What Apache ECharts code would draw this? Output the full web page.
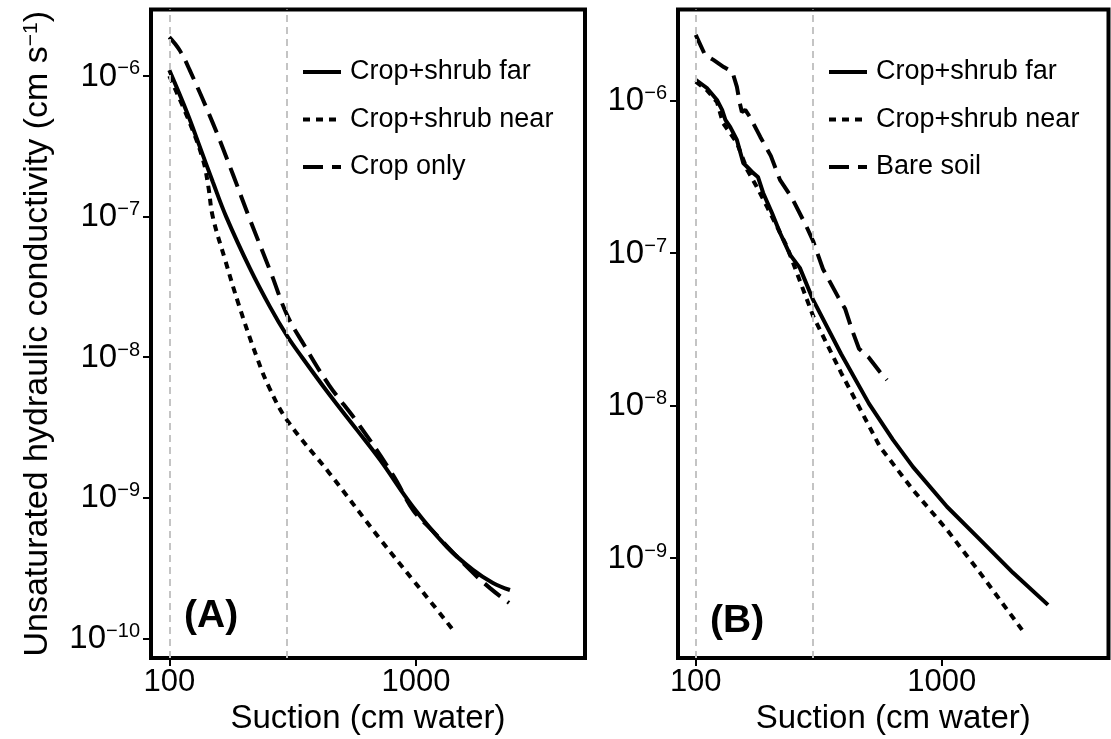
<!DOCTYPE html>
<html>
<head>
<meta charset="utf-8">
<script src="https://cdn.jsdelivr.net/npm/echarts@6/dist/echarts.min.js"></script>
<style>
html,body{margin:0;padding:0;background:#fff;}
#c{width:1111px;height:739px;}
</style>
</head>
<body>
<div id="c"></div>
<script>
// ---------- DATA ----------
// Panel A
const farA_x  = [100, 118, 133, 150, 170, 212, 256, 300, 345, 444, 577, 715, 973, 1335, 1702, 2051, 2404];
const farA_y  = [1.10e-6, 5.5e-7, 3.13e-7, 1.77e-7, 1.0e-7, 4.3e-8, 2.28e-8, 1.42e-8, 1.0e-8, 5.47e-9, 3.03e-9, 1.86e-9, 8.6e-10, 4.47e-10, 3.07e-10, 2.48e-10, 2.21e-10];
const nearA_x = [100, 121, 137, 144, 150, 168, 192, 227, 255, 300, 448, 715, 973, 1139, 1413];
const nearA_y = [1.0e-6, 4.64e-7, 2.53e-7, 1.63e-7, 1.0e-7, 4.99e-8, 2.31e-8, 9.87e-9, 6.0e-9, 3.57e-9, 1.48e-9, 5.09e-10, 2.60e-10, 1.85e-10, 1.15e-10];
const cropA_x = [100, 110, 121, 150, 181, 210, 258, 300, 352, 444, 577, 807, 973, 1139, 1656, 1995, 2383];
const cropA_y = [1.89e-6, 1.53e-6, 1.10e-6, 4.64e-7, 2.0e-7, 1.0e-7, 4.0e-8, 2.0e-8, 1.22e-8, 6.34e-9, 3.46e-9, 1.45e-9, 8.18e-10, 6.09e-10, 3.07e-10, 2.28e-10, 1.79e-10];
// Panel B
const farB_x  = [100, 111, 122, 128, 132, 138, 147, 156, 162, 171, 179, 188, 204, 220, 242, 265, 300, 390, 506, 634, 764, 1051, 1431, 1950, 2704];
const farB_y  = [1.37e-6, 1.21e-6, 1.01e-6, 8.69e-7, 7.47e-7, 6.73e-7, 5.52e-7, 3.90e-7, 3.67e-7, 3.36e-7, 3.16e-7, 2.48e-7, 1.84e-7, 1.36e-7, 9.73e-8, 8.0e-8, 4.93e-8, 2.18e-8, 1.03e-8, 5.96e-9, 3.96e-9, 2.17e-9, 1.32e-9, 8.0e-10, 4.93e-10];
const nearB_x = [100, 111, 122, 129, 147, 162, 177, 195, 214, 235, 300, 390, 561, 764, 1051, 1431, 2121];
const nearB_y = [1.33e-6, 1.17e-6, 9.8e-7, 7.15e-7, 5.28e-7, 3.51e-7, 2.72e-7, 2.01e-7, 1.49e-7, 1.10e-7, 3.87e-8, 1.64e-8, 5.36e-9, 2.80e-9, 1.53e-9, 8.0e-10, 3.38e-10];
const bareB_x = [100, 109, 118, 130, 141, 147, 151, 154, 159, 166, 183, 202, 220, 246, 281, 300, 329, 379, 405, 432, 461, 506, 561, 599];
const bareB_y = [2.70e-6, 2.0e-6, 1.85e-6, 1.66e-6, 1.54e-6, 1.23e-6, 9.66e-7, 8.43e-7, 8.69e-7, 7.82e-7, 5.78e-7, 4.34e-7, 3.02e-7, 2.30e-7, 1.51e-7, 1.20e-7, 7.87e-8, 5.16e-8, 4.31e-8, 3.13e-8, 2.36e-8, 2.06e-8, 1.66e-8, 1.47e-8];

const xTicks  = [100, 1000];
const yTicks  = [1e-10, 1e-9, 1e-8, 1e-7, 1e-6];
const refLines = [100, 300];
const namesA = ['Crop+shrub far', 'Crop+shrub near', 'Crop only'];
const namesB = ['Crop+shrub far', 'Crop+shrub near', 'Bare soil'];
const panelLabels = ['(A)', '(B)'];
const xTitle = 'Suction (cm water)';
const yTitle = 'Unsaturated hydraulic conductivity (cm s{s|\u22121})';

// ---------- BUILD ----------
const FONT = '"Liberation Sans", Arial, Helvetica, sans-serif';
const zip = (xs, ys) => xs.map((x, i) => [x, ys[i]]);
const styles = {
  solid: {type: 'solid', width: 4, color: '#000'},
  dot:   {type: [7, 6], width: 4, color: '#000', cap: 'butt'},
  dash:  {type: [20, 9], width: 4, color: '#000', cap: 'butt'}
};
function isPow10(v) {
  const l = Math.log10(v);
  return Math.abs(l - Math.round(l)) < 1e-6;
}
function yFmt(v) {
  if (!isPow10(v)) return '';
  const e = Math.round(Math.log10(v));
  return '{b|10}{s|' + (e < 0 ? '\u2212' + (-e) : e) + '}';
}
function xFmt(v) {
  if (!isPow10(v)) return '';
  return String(Math.round(v));
}
const grids = [
  {left: 151, right: 526, top: 9.5, bottom: 81},
  {left: 678, right: 2.5, top: 9.5, bottom: 81}
];
const xExt = [[84.3, 4842], [84.7, 4764]];
const yExt = [[7.26e-11, 2.97e-6], [2.21e-10, 3.96e-6]];

function mkX(i) {
  return {
    type: 'log', logBase: 10, gridIndex: i, min: xExt[i][0], max: xExt[i][1],
    axisLine: {show: false},
    splitLine: {show: false},
    minorTick: {show: false},
    axisTick: {show: true, length: 8, lineStyle: {color: '#000', width: 2}, customValues: xTicks},
    axisLabel: {customValues: xTicks, formatter: xFmt, fontSize: 31, color: '#000', fontFamily: FONT, margin: 9},
    name: xTitle, nameLocation: 'middle', nameGap: 42,
    nameTextStyle: {fontSize: 33, color: '#000', fontFamily: FONT}
  };
}
function mkY(i) {
  const ax = {
    type: 'log', logBase: 10, gridIndex: i, min: yExt[i][0], max: yExt[i][1],
    axisLine: {show: false},
    splitLine: {show: false},
    minorTick: {show: false},
    axisTick: {show: true, length: 8, lineStyle: {color: '#000', width: 2}, customValues: yTicks},
    axisLabel: {
      customValues: yTicks, formatter: yFmt, margin: 11, color: '#000',
      rich: {
        b: {fontSize: 33, color: '#000', fontFamily: FONT, lineHeight: 34, verticalAlign: 'bottom'},
        s: {fontSize: 20, color: '#000', fontFamily: FONT, lineHeight: 20, verticalAlign: 'top'}
      }
    }
  };
  if (i === 0) {
    ax.name = yTitle;
    ax.nameLocation = 'middle';
    ax.nameGap = 96;
    ax.nameRotate = 90;
    ax.nameTextStyle = {
      fontSize: 34, color: '#000', fontFamily: FONT,
      rich: {s: {fontSize: 21, color: '#000', fontFamily: FONT, verticalAlign: 'top', lineHeight: 21}}
    };
  }
  return ax;
}
function curve(name, i, xs, ys, st, smooth) {
  return {
    name: name, type: 'line', xAxisIndex: i, yAxisIndex: i,
    data: zip(xs, ys), showSymbol: false, symbol: 'none',
    smooth: smooth,
    lineStyle: st, itemStyle: {color: '#000'}, z: 3, animation: false
  };
}
function refSeries(i) {
  return {
    type: 'line', xAxisIndex: i, yAxisIndex: i, data: [], z: 1, silent: true, animation: false,
    markLine: {
      silent: true, symbol: 'none', animation: false,
      label: {show: false},
      lineStyle: {color: '#c4c4c4', type: [7, 5], width: 2},
      data: refLines.map(v => ({xAxis: v}))
    }
  };
}
function legend(names, left) {
  return {
    data: names, orient: 'vertical', left: left, top: 53,
    itemWidth: 38, itemHeight: 14, itemGap: 19.5,
    itemStyle: {opacity: 0, color: 'rgba(0,0,0,0)', borderWidth: 0},
    lineStyle: {width: 4, color: '#000', type: 'inherit'},
    textStyle: {fontSize: 27, color: '#000', fontFamily: FONT, lineHeight: 28, padding: [0, 0, 0, 4]},
    selectedMode: false
  };
}

const option = {
  animation: false,
  backgroundColor: '#fff',
  grid: grids.map(g => Object.assign({show: true, borderColor: '#000', borderWidth: 4, containLabel: false, outerBoundsMode: 'none'}, g)),
  xAxis: [mkX(0), mkX(1)],
  yAxis: [mkY(0), mkY(1)],
  legend: [legend(namesA, 296), legend(namesB, 822)],
  series: [
    refSeries(0), refSeries(1),
    curve(namesA[0], 0, farA_x,  farA_y,  styles.solid, 0.4),
    curve(namesA[1], 0, nearA_x, nearA_y, styles.dot,   0.4),
    curve(namesA[2], 0, cropA_x, cropA_y, styles.dash,  0.4),
    curve(namesB[0], 1, farB_x,  farB_y,  styles.solid, false),
    curve(namesB[1], 1, nearB_x, nearB_y, styles.dot,   false),
    curve(namesB[2], 1, bareB_x, bareB_y, styles.dash,  false)
  ],
  graphic: [
    {type: 'text', left: 184, top: 597, style: {text: panelLabels[0], font: 'bold 39px ' + FONT, fill: '#000'}},
    {type: 'text', left: 710, top: 602, style: {text: panelLabels[1], font: 'bold 39px ' + FONT, fill: '#000'}}
  ]
};
const chart = echarts.init(document.getElementById('c'), null, {renderer: 'canvas'});
chart.setOption(option);
</script>
</body>
</html>
